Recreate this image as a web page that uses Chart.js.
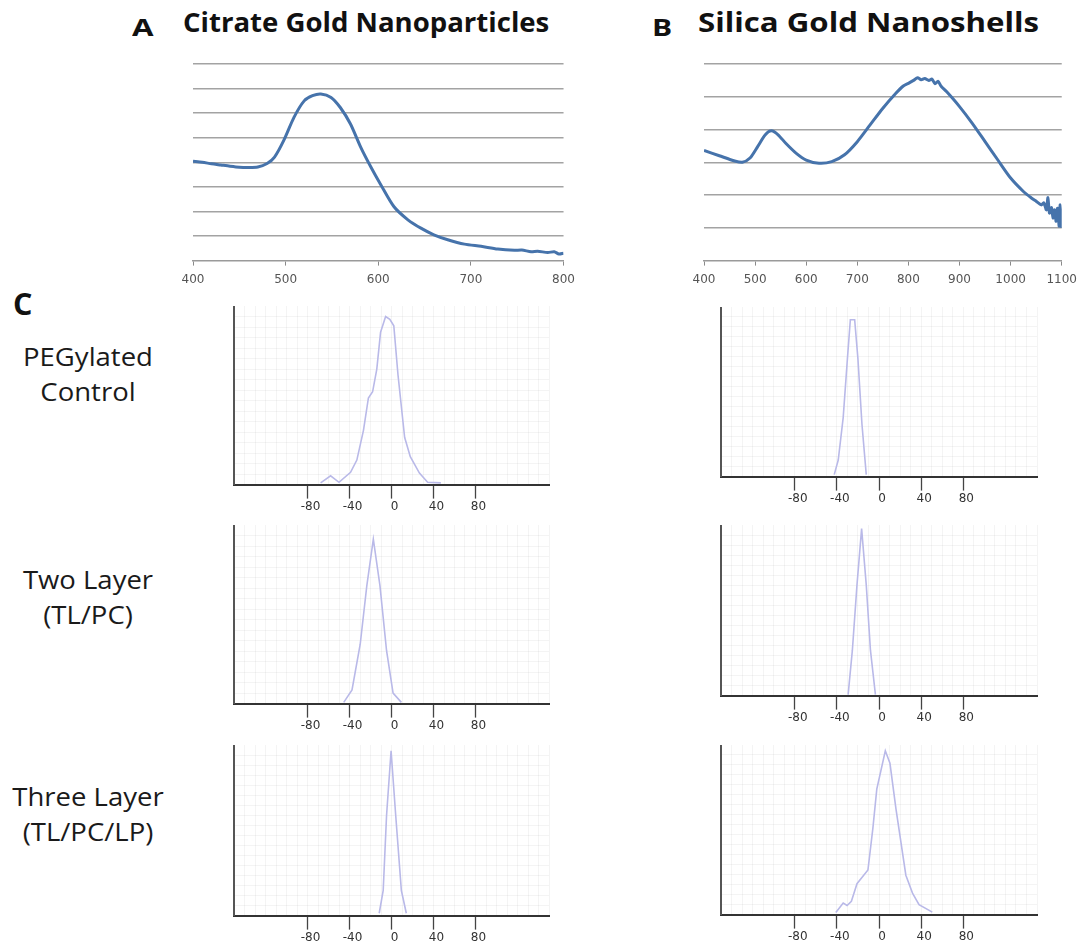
<!DOCTYPE html>
<html>
<head>
<meta charset="utf-8">
<script src="https://cdn.jsdelivr.net/npm/chart.js@4.4.1/dist/chart.umd.min.js"></script>
<style>
  body { margin: 0; background: #fff; }
  #page { position: relative; width: 1084px; height: 947px; overflow: hidden; font-family: "Open Sans", Lato, sans-serif; color: #111; }
  .box { position: absolute; }
  .txt { position: absolute; white-space: nowrap; line-height: 1; transform-origin: 0 0; }
  .big { font-weight: bold; }
  .row { position: absolute; left: 0; width: 176px; text-align: center; font-size: 25px; line-height: 35px; color: #1a1a1a; transform: scaleX(1.1); transform-origin: 88px 0; }
</style>
</head>
<body>
<div id="page">
  <div class="txt big" style="left:132px;top:15px;font-size:24px;transform:scaleX(1.3)">A</div>
  <div class="txt big" style="left:183px;top:8.5px;font-size:26px;transform:scaleX(1.06)">Citrate Gold Nanoparticles</div>
  <div class="txt big" style="left:652px;top:15px;font-size:24px;transform:scaleX(1.25)">B</div>
  <div class="txt big" style="left:698px;top:8.5px;font-size:26px;transform:scaleX(1.2)">Silica Gold Nanoshells</div>
  <div class="txt big" style="left:13px;top:288px;font-size:30.5px">C</div>

  <div class="row" style="top:339px">PEGylated<br>Control</div>
  <div class="row" style="top:562px">Two Layer<br>(TL/PC)</div>
  <div class="row" style="top:779px">Three Layer<br>(TL/PC/LP)</div>

  <div class="box" style="left:173px;top:55px;width:409px;height:239px"><canvas id="specA"></canvas></div>
  <div class="box" style="left:684px;top:55px;width:400px;height:239px"><canvas id="specB"></canvas></div>

  <div class="box" style="left:233px;top:306px;width:317px;height:209px"><canvas id="z1"></canvas></div>
  <div class="box" style="left:720px;top:307px;width:318px;height:200px"><canvas id="z2"></canvas></div>
  <div class="box" style="left:233px;top:525px;width:317px;height:209px"><canvas id="z3"></canvas></div>
  <div class="box" style="left:720px;top:525px;width:318px;height:201px"><canvas id="z4"></canvas></div>
  <div class="box" style="left:233px;top:745px;width:317px;height:201px"><canvas id="z5"></canvas></div>
  <div class="box" style="left:720px;top:745px;width:318px;height:200px"><canvas id="z6"></canvas></div>
</div>

<script>
// A: citrate gold nanoparticles (wavelength nm -> absorbance, arbitrary units)
const citrateWl = [400, 410, 420, 430, 440, 450, 460, 470, 480, 488, 498, 509, 520, 529, 538, 549, 559, 570, 581, 592, 603, 617, 632, 646, 660, 675, 693, 711, 729, 747, 755, 765, 772, 783, 790, 795, 800];
const citrateAbs = [4.04, 4.0, 3.94, 3.89, 3.84, 3.8, 3.79, 3.81, 3.95, 4.21, 4.89, 5.83, 6.5, 6.71, 6.78, 6.64, 6.23, 5.56, 4.62, 3.81, 3.07, 2.19, 1.66, 1.32, 1.05, 0.85, 0.67, 0.58, 0.47, 0.42, 0.43, 0.36, 0.38, 0.33, 0.36, 0.27, 0.3];

// B: silica gold nanoshells
const shellWl = [400, 430, 460, 475, 490, 505, 520, 532, 545, 560, 580, 600, 625, 650, 675, 700, 725, 750, 775, 790, 800, 810, 818, 825, 832, 840, 846, 852, 858, 864, 875, 900, 925, 950, 975, 1000, 1025, 1040, 1050, 1060, 1065, 1070, 1073, 1076, 1080, 1083, 1086, 1089, 1092, 1095, 1097, 1100];
const shellAbs = [3.36, 3.2, 3.04, 3.0, 3.13, 3.48, 3.84, 3.96, 3.84, 3.58, 3.28, 3.07, 2.97, 3.02, 3.23, 3.63, 4.14, 4.65, 5.1, 5.33, 5.41, 5.5, 5.58, 5.52, 5.56, 5.5, 5.54, 5.4, 5.47, 5.32, 5.15, 4.7, 4.19, 3.63, 3.07, 2.52, 2.11, 1.92, 1.81, 1.7, 1.76, 1.55, 1.92, 1.45, 1.62, 1.3, 1.55, 1.2, 1.6, 1.05, 1.7, 1.0];

// C: zeta potential distributions (mV -> relative intensity)
const aupegMv = [-67.5, -58, -50, -39, -33, -26.7, -22, -18, -14, -10.4, -5.6, -1.6, 2.2, 6.2, 12.5, 17.9, 26.6, 34.4, 47];
const aupegInt = [1, 5, 1.3, 7, 14, 31, 49.5, 53, 66, 87, 96, 94.4, 90.7, 62.6, 27, 15.9, 6.6, 1.3, 1];
const nspegMv = [-42.5, -38.7, -34, -30, -27.2, -23.1, -20, -16.2, -12.1];
const nspegInt = [1.2, 10, 35.5, 70.8, 94.3, 94.3, 70.8, 31.6, 1.2];
const au2Mv = [-45.5, -37.6, -29.8, -23.5, -17.3, -11, -4.7, 1.5, 9.4];
const au2Int = [0.7, 7.8, 33.9, 67.4, 93.9, 67.4, 30.2, 6, 0.7];
const ns2Mv = [-29.3, -25.3, -20.9, -16.5, -12.1, -8.1, -3.4];
const ns2Int = [0.6, 27, 66.2, 99.8, 66.2, 27, 0.6];
const au3Mv = [-11.7, -7.9, -4.7, -0.4, 4, 9.4, 14.1];
const au3Int = [1.4, 15, 60, 98.6, 60, 15, 1.4];
const ns3Mv = [-41, -34, -30.3, -26.2, -20.9, -10.5, -5.8, -2.1, 6, 10.4, 16.1, 25.5, 31.8, 38, 50.6];
const ns3Int = [1.2, 7, 5.5, 8, 18.6, 26.8, 52, 75.5, 98.5, 91, 63.6, 23.7, 12.9, 6, 1.5];

const zetaTicks = [-80, -40, 0, 40, 80];

function pts(xs, ys) {
  return xs.map((x, i) => ({ x: x, y: ys[i] }));
}

function makeSpectrum(id, xs, ys, xmin, xmax, ymax) {
  new Chart(document.getElementById(id), {
    type: "line",
    data: {
      datasets: [{
        data: pts(xs, ys),
        borderColor: "#4673ab",
        borderWidth: 3,
        pointRadius: 0,
        tension: 0.25,
        fill: false,
      }],
    },
    options: {
      responsive: true,
      maintainAspectRatio: false,
      animation: false,
      layout: { padding: { left: 20, right: 16, top: 9, bottom: 0 } },
      plugins: { legend: { display: false }, tooltip: { enabled: false } },
      scales: {
        x: {
          type: "linear",
          min: xmin,
          max: xmax,
          ticks: {
            stepSize: 100,
            color: "#555",
            font: { family: "DejaVu Sans", size: 12 },
            padding: 7,
            callback: (v) => String(v),
          },
          grid: { display: true, drawOnChartArea: false, drawTicks: true, tickLength: 5, tickColor: "#8a8a8a" },
          border: { display: true, color: "#9a9a9a", width: 1.5 },
        },
        y: {
          min: 0,
          max: ymax,
          ticks: { display: false, stepSize: 1 },
          grid: {
            drawTicks: false,
            color: (c) => (c.tick && c.tick.value === 0 ? "rgba(0,0,0,0)" : "#a3a3a3"),
            lineWidth: 1.4,
          },
          border: { display: false },
        },
      },
    },
  });
}

function makeZeta(id, xs, ys) {
  new Chart(document.getElementById(id), {
    type: "line",
    data: {
      datasets: [{
        data: pts(xs, ys),
        borderColor: "#b9b9e8",
        borderWidth: 1.6,
        pointRadius: 0,
        tension: 0,
        fill: false,
      }],
    },
    options: {
      responsive: true,
      maintainAspectRatio: false,
      animation: false,
      layout: { padding: 0 },
      plugins: { legend: { display: false }, tooltip: { enabled: false } },
      scales: {
        x: {
          type: "linear",
          min: -150,
          max: 150,
          afterBuildTicks: (axis) => {
            const t = [];
            for (let v = -150; v <= 150; v += 10) t.push({ value: v });
            axis.ticks = t;
          },
          ticks: {
            autoSkip: false,
            maxRotation: 0,
            color: "#333",
            font: { family: "DejaVu Sans", size: 12 },
            padding: 1,
            labelOffset: 3,
            callback: (v) => (zetaTicks.includes(v) ? String(v) : ""),
          },
          grid: {
            color: "rgba(0,0,0,0.045)",
            lineWidth: 1,
            tickLength: 14,
            tickWidth: 1.3,
            tickColor: (c) => (c.tick && zetaTicks.includes(c.tick.value) ? "#444" : "rgba(0,0,0,0)"),
          },
          border: { display: true, color: "#333", width: 2 },
        },
        y: {
          min: 0,
          max: 102,
          afterBuildTicks: (axis) => {
            const t = [];
            for (let v = 0; v <= 100; v += 6) t.push({ value: v });
            axis.ticks = t;
          },
          ticks: { display: false },
          grid: { drawTicks: false, color: "rgba(0,0,0,0.045)", lineWidth: 1 },
          border: { display: true, color: "#555", width: 2 },
        },
      },
    },
  });
}

makeSpectrum("specA", citrateWl, citrateAbs, 400, 800, 8);
makeSpectrum("specB", shellWl, shellAbs, 400, 1100, 6);

makeZeta("z1", aupegMv, aupegInt);
makeZeta("z2", nspegMv, nspegInt);
makeZeta("z3", au2Mv, au2Int);
makeZeta("z4", ns2Mv, ns2Int);
makeZeta("z5", au3Mv, au3Int);
makeZeta("z6", ns3Mv, ns3Int);
</script>
</body>
</html>
